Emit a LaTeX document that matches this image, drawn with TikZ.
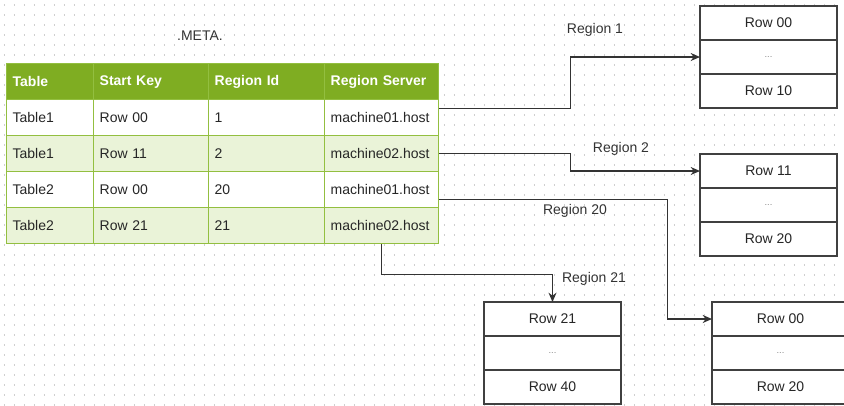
\documentclass[tikz,border=0pt]{standalone}
\usepackage{fontspec}
\setsansfont{Liberation Sans}
\usetikzlibrary{arrows.meta, positioning}
\definecolor{metahead}{HTML}{7FAD22}
\definecolor{metaline}{HTML}{93BF40}
\definecolor{metarow}{HTML}{EAF3D8}
\definecolor{gridgray}{HTML}{CFCFCF}
\tikzset{
  tcell/.style  = {font=\sffamily\fontsize{10.5}{12}\selectfont, align=left,
                   draw=metaline, line width=1pt, anchor=north west,
                   minimum height=27pt, inner xsep=4.5pt, inner ysep=0pt,
                   text=black!85},
  thead/.style  = {tcell, fill=metahead, text=white,
                   font=\sffamily\bfseries\fontsize{10.5}{12}\selectfont},
  rowa/.style   = {tcell, fill=white},
  rowb/.style   = {tcell, fill=metarow},
  rbox/.style   = {font=\sffamily\fontsize{10.5}{12}\selectfont,
                   draw=black!75, fill=white, line width=0.9pt, outer sep=0pt,
                   minimum width=102.75pt, minimum height=25.5pt, inner sep=0pt,
                   text=black!85},
  rdots/.style  = {rbox, font=\sffamily\scriptsize, text=black!45},
  flow/.style   = {-{Stealth[length=7pt, width=6pt]}, line width=1pt,
                   draw=black!80},
  rlbl/.style   = {font=\sffamily\fontsize{10.5}{12}\selectfont, text=black!80,
                   inner sep=1pt},
  griddot/.style= {draw=gridgray, line width=0.8pt,
                   dash pattern=on 0.8pt off 6.7pt},
}

\begin{document}
\begin{tikzpicture}[x=0.75pt, y=-0.75pt]
        \clip (0,0) rectangle (844,405);
        \fill[white] (0,0) rectangle (844,405);
        \foreach \gy in {5,15,...,405}
            \draw[griddot] (3.75,\gy) -- (844,\gy);

        % the .META. table
        \node[rlbl] (meta) at (200,36) {.META.};
        \node[thead, text width=56.25pt] (h1) at (6,63)   {Table};
        \node[thead, text width=77.25pt] (h2) at (93,63)  {Start Key};
        \node[thead, text width=78pt]    (h3) at (208,63) {Region Id};
        \node[thead, text width=76.5pt]  (h4) at (324,63) {Region Server};
        \foreach \sty/\tbl/\key/\rid/\srv [count=\n] in
            {rowa/Table1/Row 00/1/machine01.host,
             rowb/Table1/Row 11/2/machine02.host,
             rowa/Table2/Row 00/20/machine01.host,
             rowb/Table2/Row 21/21/machine02.host}{
            \node[\sty, text width=56.25pt] (c\n1) at (6,{63+36*\n})   {\tbl};
            \node[\sty, text width=77.25pt] (c\n2) at (93,{63+36*\n})  {\key};
            \node[\sty, text width=78pt]    (c\n3) at (208,{63+36*\n}) {\rid};
            \node[\sty, text width=76.5pt]  (c\n4) at (324,{63+36*\n}) {\srv};
        }

        % regions
        \node[rbox, anchor=north west] (r1a) at (700,6) {Row 00};
        \node[rdots, below=0pt of r1a] (r1b) {...};
        \node[rbox, below=0pt of r1b]  (r1c) {Row 10};

        \node[rbox, anchor=north west] (r2a) at (700,154) {Row 11};
        \node[rdots, below=0pt of r2a] (r2b) {...};
        \node[rbox, below=0pt of r2b]  (r2c) {Row 20};

        \node[rbox, anchor=north west] (r3a) at (484,302) {Row 21};
        \node[rdots, below=0pt of r3a] (r3b) {...};
        \node[rbox, below=0pt of r3b]  (r3c) {Row 40};

        \node[rbox, anchor=north west] (r4a) at (712,302) {Row 00};
        \node[rdots, below=0pt of r4a] (r4b) {...};
        \node[rbox, below=0pt of r4b]  (r4c) {Row 20};

        \draw[flow] ([yshift=6.75pt]c14.east) -- ++(131,0) |- (r1b.west);
        \draw[flow] (c24.east) -- ++(131,0) |- (r2a.west);
        \draw[flow] ([yshift=-7.5pt]c34.east) -- ++(228,0) |- (r4a.west);
        \draw[flow] (c44.south) -- ++(0,30) -| (r3a.north);

        \node[rlbl] (l1)  at (595,30)  {Region 1};
        \node[rlbl] (l2)  at (621,149) {Region 2};
        \node[rlbl] (l20) at (575,211) {Region 20};
        \node[rlbl] (l21) at (594,279) {Region 21};
    \end{tikzpicture}
\end{document}
